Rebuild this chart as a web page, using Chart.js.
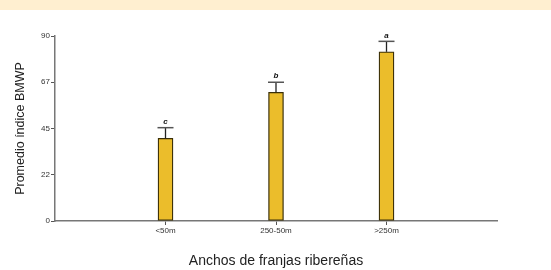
<!DOCTYPE html>
<html><head><meta charset="utf-8">
<script src="https://cdn.jsdelivr.net/npm/chart.js@4/dist/chart.umd.min.js"></script>
<style>
html,body{margin:0;padding:0;background:#fff;}
#band{height:10px;background:#FFEFD0;}
#wrap{width:551px;height:260px;position:relative;}
</style></head>
<body>
<div id="band"></div>
<div id="wrap"><canvas id="c"></canvas></div>
<script>
const categories = ['<50m', '250-50m', '>250m'];
const means = [40.2, 62.6, 82.3];
const errors = [5.2, 4.9, 5.1];
const letters = ['c', 'b', 'a'];
const yTicks = [0, 22.5, 45, 67.5, 90];

const labels = [''].concat(categories, ['']);
const values = [null].concat(means, [null]);
const errs = [null].concat(errors, [null]);
const lets = [null].concat(letters, [null]);

const errorPlugin = {
  id: 'errs',
  afterDatasetsDraw(chart) {
    const ctx = chart.ctx, xs = chart.scales.x, ys = chart.scales.y;
    ctx.save();
    values.forEach((v, i) => {
      if (v == null) return;
      const x = xs.getPixelForValue(i);
      const yTop = ys.getPixelForValue(v);
      const yErr = ys.getPixelForValue(v + errs[i]);
      ctx.strokeStyle = '#222';
      ctx.lineWidth = 1.3;
      ctx.beginPath(); ctx.moveTo(x, yTop); ctx.lineTo(x, yErr); ctx.stroke();
      ctx.strokeStyle = '#555';
      ctx.lineWidth = 1.5;
      ctx.beginPath(); ctx.moveTo(x - 8, yErr); ctx.lineTo(x + 8, yErr); ctx.stroke();
      ctx.fillStyle = '#111';
      ctx.font = 'italic bold 8px "Liberation Sans", Arial, sans-serif';
      ctx.textAlign = 'center';
      ctx.textBaseline = 'bottom';
      ctx.fillText(lets[i], x, yErr - 2);
    });
    ctx.restore();
  }
};

new Chart(document.getElementById('c'), {
  type: 'bar',
  data: {
    labels: labels,
    datasets: [{
      data: values,
      backgroundColor: '#EBBD2B',
      borderColor: '#3a2f08',
      borderWidth: 1.3,
      barThickness: 15,
      borderSkipped: false
    }]
  },
  options: {
    responsive: true,
    maintainAspectRatio: false,
    animation: false,
    layout: { padding: { top: 26, right: 54, left: 0, bottom: 0 } },
    plugins: { legend: { display: false }, tooltip: { enabled: false } },
    scales: {
      x: {
        type: 'category',
        offset: false,
        afterFit(s) { s.height = 49; },
        grid: {
          offset: false,
          drawOnChartArea: false, drawTicks: true, tickLength: 4,
          color: (c) => (c.index === 0 || c.index === labels.length - 1) ? 'rgba(0,0,0,0)' : '#555'
        },
        border: { color: '#777', width: 1.5 },
        ticks: { color: '#333', font: { size: 8, family: '"Liberation Sans", Arial, sans-serif' }, padding: 1, maxRotation: 0, autoSkip: false },
        title: { display: true, text: 'Anchos de franjas ribereñas', color: '#222',
          font: { size: 14, family: '"Liberation Sans", Arial, sans-serif' }, padding: { top: 4, bottom: 0.5 } }
      },
      y: {
        min: 0, max: 90,
        afterFit(s) { s.width = 55; },
        afterBuildTicks(s) { s.ticks = yTicks.map(v => ({ value: v })); },
        grid: { drawOnChartArea: false, drawTicks: true, tickLength: 4, color: '#555' },
        border: { color: '#777', width: 1.5 },
        ticks: {
          color: '#333', padding: 1,
          font: { size: 8, family: '"Liberation Sans", Arial, sans-serif' },
          callback: (v) => String(Math.floor(v))
        },
        title: { display: true, text: 'Promedio índice BMWP', color: '#222',
          font: { size: 12.5, family: '"Liberation Sans", Arial, sans-serif' }, padding: { top: 13, bottom: 0 } }
      }
    }
  },
  plugins: [errorPlugin]
});
</script>
</body></html>
